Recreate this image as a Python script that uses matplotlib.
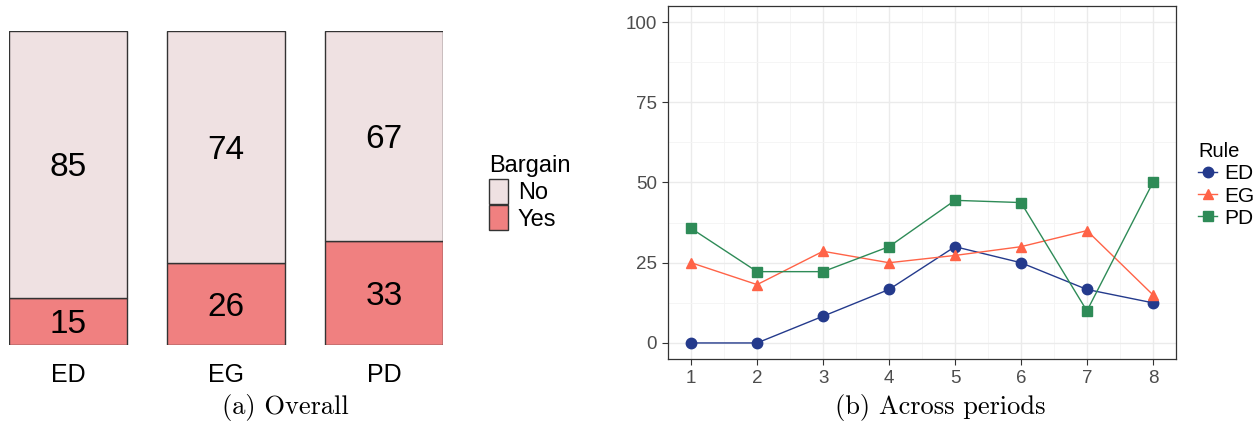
import numpy as np
import matplotlib.pyplot as plt
from matplotlib.patches import Patch

# overall share of bargains per rule (percent)
rules = ['ED', 'EG', 'PD']
pct_yes = [15, 26, 33]
pct_no = [85, 74, 67]

# share of bargains per period and rule (percent)
periods = [1, 2, 3, 4, 5, 6, 7, 8]
ed_by_period = [0, 0, 8.33, 16.67, 30, 25, 16.67, 12.5]
eg_by_period = [25, 18.18, 28.57, 25, 27.27, 30, 35, 15]
pd_by_period = [35.71, 22.22, 22.22, 30, 44.44, 43.75, 10, 50]

W, H = 1257, 423
fig = plt.figure(figsize=(W / 100, H / 100), dpi=100)
plt.rcParams['font.family'] = ['Liberation Sans', 'DejaVu Sans']


def px_axes(left, top, right, bottom):
    return fig.add_axes([left / W, 1 - bottom / H, (right - left) / W, (bottom - top) / H])


# ---- (a) stacked bars
ax1 = px_axes(9, 31, 443, 345)
x = np.arange(len(rules))
col_no, col_yes = '#efe1e2', '#f08080'
edge = '#333333'
ax1.bar(x, pct_yes, width=0.75, color=col_yes, edgecolor=edge, linewidth=1)
ax1.bar(x, pct_no, width=0.75, bottom=pct_yes, color=col_no, edgecolor=edge, linewidth=1)
for xi, y, n in zip(x, pct_yes, pct_no):
    # digits have no descender, nudge down so the glyphs sit centred
    ax1.text(xi, y / 2 - 1.1, str(y), ha='center', va='center', fontsize=24)
    ax1.text(xi, y + n / 2 - 1.1, str(n), ha='center', va='center', fontsize=24)
    ax1.text(xi, -9.5, rules[xi], ha='center', va='center', fontsize=18)
ax1.set_xlim(-0.375, 2.375)
ax1.set_ylim(0, 100)
ax1.axis('off')

handles = [Patch(facecolor=col_no, edgecolor=edge), Patch(facecolor=col_yes, edgecolor=edge)]
leg1 = fig.legend(handles, ['No', 'Yes'], title='Bargain', loc='upper left',
                  bbox_to_anchor=(480 / W, 1 - 146 / H), frameon=False, fontsize=17,
                  title_fontsize=17, handlelength=0.8, handleheight=1.25,
                  labelspacing=0.05, handletextpad=0.4, borderaxespad=0)
leg1._legend_box.align = 'left'

fig.text(285 / W, 1 - 407 / H, '(a) Overall', ha='center', va='center',
         fontsize=19, family='cmr10')

# ---- (b) lines across periods
ax2 = px_axes(668, 6, 1176, 359)
series = [('ED', ed_by_period, '#243a8c', 'o'),
          ('EG', eg_by_period, '#ff6347', '^'),
          ('PD', pd_by_period, '#2e8b57', 's')]
for name, vals, c, m in series:
    ax2.plot(periods, vals, color=c, marker=m, markersize=7.5, linewidth=1, label=name)

ax2.set_xlim(0.65, 8.35)
ax2.set_ylim(-5, 105)
ax2.set_xticks(periods)
ax2.set_yticks([0, 25, 50, 75, 100])
ax2.set_xticks(np.arange(1.5, 8, 1), minor=True)
ax2.set_yticks(np.arange(12.5, 100, 25), minor=True)
ax2.grid(which='major', color='#ebebeb', linewidth=1)
ax2.grid(which='minor', color='#f4f4f4', linewidth=0.6)
ax2.set_axisbelow(True)
for sp in ax2.spines.values():
    sp.set_color('#333333')
    sp.set_linewidth(0.9)
ax2.tick_params(which='major', length=4, color='#333333', labelsize=13.5,
                labelcolor='#4d4d4d', pad=4)
ax2.tick_params(which='minor', length=0)

leg2 = ax2.legend(title='Rule', loc='upper left', bbox_to_anchor=(1190 / W, 1 - 134 / H),
                  bbox_transform=fig.transFigure, frameon=False, fontsize=15,
                  title_fontsize=14.5, handlelength=0.9, labelspacing=0.15,
                  handletextpad=0.35, borderaxespad=0, markerscale=1.0)
leg2._legend_box.align = 'left'

fig.text(940 / W, 1 - 407 / H, '(b) Across periods', ha='center', va='center',
         fontsize=19, family='cmr10')

fig.savefig('out.png', dpi=100)
